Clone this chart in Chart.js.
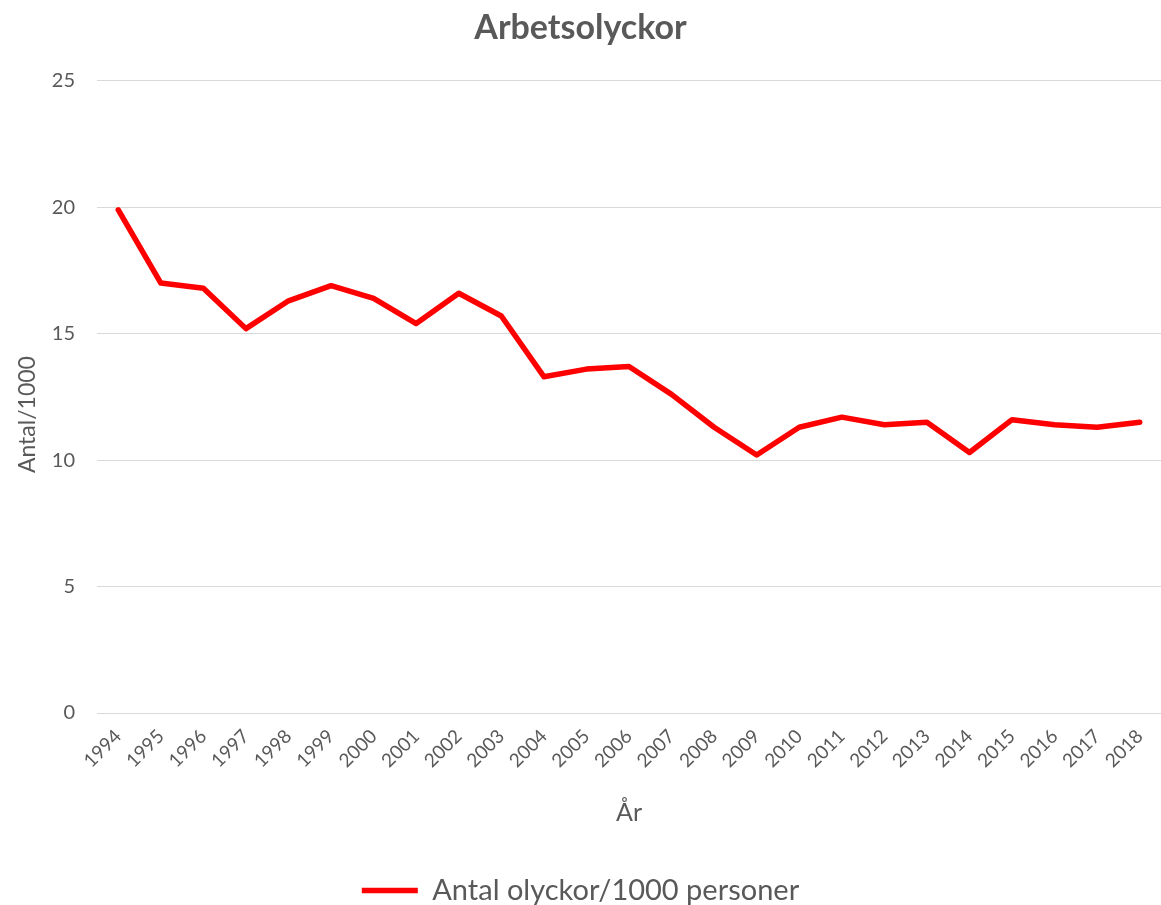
<!DOCTYPE html>
<html>
<head>
<meta charset="utf-8">
<script src="https://cdn.jsdelivr.net/npm/chart.js@4/dist/chart.umd.min.js"></script>
<style>
html,body{margin:0;padding:0;background:#fff;}
#wrap{width:1161px;height:905px;}
</style>
</head>
<body>
<div id="wrap"><canvas id="c" width="1161" height="905"></canvas></div>
<script>
const years = ["1994","1995","1996","1997","1998","1999","2000","2001","2002","2003","2004","2005","2006","2007","2008","2009","2010","2011","2012","2013","2014","2015","2016","2017","2018"];
const olyckor = [19.9,17.0,16.8,15.2,16.3,16.9,16.4,15.4,16.6,15.7,13.3,13.6,13.7,12.6,11.3,10.2,11.3,11.7,11.4,11.5,10.3,11.6,11.4,11.3,11.5];
const seriesName = "Antal olyckor/1000 personer";
const chartTitle = "Arbetsolyckor";
const yTitle = "Antal/1000";
const xTitle = "År";

const FONT = "Lato, 'Open Sans', sans-serif";
const GREY = "#595959";

new Chart(document.getElementById('c'), {
  type: 'line',
  data: {
    labels: years,
    datasets: [{
      label: seriesName,
      data: olyckor,
      borderColor: '#ff0000',
      backgroundColor: '#ff0000',
      borderWidth: 5.5,
      pointRadius: 0,
      tension: 0,
      borderJoinStyle: 'round',
      borderCapStyle: 'round'
    }]
  },
  options: {
    responsive: false,
    animation: false,
    layout: { padding: { left: 0, right: 0, top: 0, bottom: -10 } },
    plugins: {
      title: {
        display: true,
        text: chartTitle,
        color: GREY,
        font: { family: FONT, size: 34, weight: 'bold' },
        padding: { top: 8, bottom: 32 }
      },
      legend: {
        position: 'bottom',
        labels: {
          color: GREY,
          font: { family: FONT, size: 29 },
          usePointStyle: true,
          pointStyle: 'line',
          pointStyleWidth: 56,
          padding: 0
        }
      },
      tooltip: { enabled: false }
    },
    scales: {
      x: {
        offset: true,
        grid: { display: false, drawTicks: false },
        border: { display: true, color: '#d9d9d9', width: 1 },
        ticks: {
          color: GREY,
          font: { family: FONT, size: 19 },
          maxRotation: 45,
          minRotation: 45,
          autoSkip: false,
          padding: 12
        },
        title: {
          display: true,
          text: xTitle,
          color: GREY,
          font: { family: FONT, size: 25 },
          padding: { top: 8, bottom: 48 }
        },
        afterFit: (s) => { s.height = 163; s.paddingLeft = 0; s.paddingRight = 0; }
      },
      y: {
        min: 0,
        max: 25,
        grid: { color: '#d9d9d9', lineWidth: 1, drawTicks: false },
        border: { display: false },
        ticks: {
          stepSize: 5,
          color: GREY,
          font: { family: FONT, size: 20 },
          padding: 22
        },
        title: {
          display: true,
          text: yTitle + "      ",
          color: GREY,
          font: { family: FONT, size: 23 },
          padding: { top: 14, bottom: 10 }
        },
        afterFit: (s) => { s.width = 97; }
      }
    }
  }
});
</script>
</body>
</html>
